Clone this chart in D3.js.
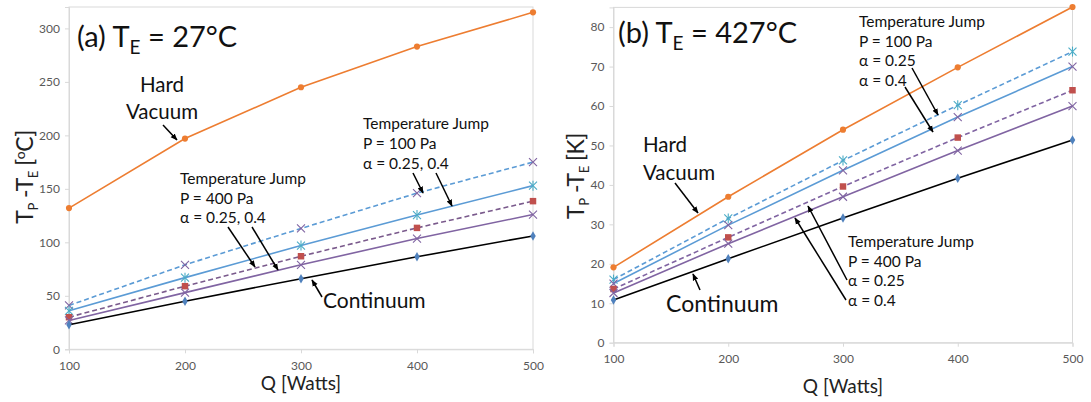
<!DOCTYPE html>
<html>
<head>
<meta charset="utf-8">
<script src="https://cdn.jsdelivr.net/npm/d3@7"></script>
<style>
  body { margin: 0; background: #fff; }
  text { font-family: Lato, "Open Sans", sans-serif; }
</style>
</head>
<body>
<div id="app"></div>
<script>
const watts = [100, 200, 300, 400, 500];

// panel (a), T_E = 27 C
const aHardVacuum = [132, 197, 245, 283, 315];
const aContinuum = [23, 45, 66, 86.5, 106];
const aJump400a25 = [30, 59, 87, 113.5, 138.5];
const aJump400a40 = [27, 53, 79, 103.5, 126];
const aJump100a25 = [41, 79, 113, 146, 175];
const aJump100a40 = [36, 67, 97, 125.5, 153];

// panel (b), T_E = 427 C
const bHardVacuum = [19.1, 37, 54, 69.8, 85.1];
const bContinuum = [10.8, 21.3, 31.6, 41.7, 51.4];
const bJump400a25 = [13.6, 26.7, 39.6, 52, 64];
const bJump400a40 = [12.6, 25.1, 37, 48.7, 60];
const bJump100a25 = [16, 31.5, 46.2, 60.2, 73.8];
const bJump100a40 = [15, 29.8, 43.7, 57.2, 70];

const aTicks = [0, 50, 100, 150, 200, 250, 300];
const bTicks = [0, 10, 20, 30, 40, 50, 60, 70, 80];

const orange = "#ED7D31", blue = "#5B9BD5", purple = "#8064A2",
      red = "#C0504D", teal = "#4BACC6", navy = "#4F81BD";

const svg = d3.select("#app").append("svg")
    .attr("width", 1091).attr("height", 402);

function drawMarker(g, kind, color) {
    if (kind === "circle" || kind === "square" || kind === "diamond") {
        const t = {circle: d3.symbolCircle, square: d3.symbolSquare, diamond: d3.symbolDiamond}[kind];
        const s = {circle: 30, square: 42, diamond: 26}[kind];
        g.append("path").attr("d", d3.symbol(t, s)()).attr("fill", color);
    } else {
        const r = 4;
        g.append("path").attr("d", `M${-r},${-r}L${r},${r}M${-r},${r}L${r},${-r}`)
            .attr("stroke", color).attr("stroke-width", 1.1).attr("fill", "none");
        if (kind === "star")
            g.append("path").attr("d", `M0,${-r - 1}L0,${r + 1}`)
                .attr("stroke", color).attr("stroke-width", 1.1);
    }
}

function panel(opts) {
    const x = d3.scaleLinear().domain([100, 500]).range(opts.xr);
    const y = d3.scaleLinear().domain(opts.yd).range(opts.yr);
    const g = svg.append("g");

    // frame
    g.append("rect").attr("x", opts.xr[0]).attr("y", opts.yr[1])
        .attr("width", opts.xr[1] - opts.xr[0]).attr("height", opts.yr[0] - opts.yr[1])
        .attr("fill", "none").attr("stroke", "#d9d9d9");

    const yAxis = g.append("g").attr("transform", `translate(${opts.xr[0]},0)`)
        .call(d3.axisLeft(y).tickValues(opts.ticks).tickSize(4).tickPadding(5));
    const xAxis = g.append("g").attr("transform", `translate(0,${opts.yr[0]})`)
        .call(d3.axisBottom(x).tickValues(watts).tickSize(4).tickPadding(8));
    [yAxis, xAxis].forEach(a => {
        a.select(".domain").attr("stroke", "#d9d9d9");
        a.selectAll(".tick line").attr("stroke", "#d9d9d9");
        a.selectAll(".tick text").attr("fill", "#595959").style("font-size", "12px")
            .style("font-family", "Lato, sans-serif");
    });

    const line = d3.line().x((d, i) => x(watts[i])).y(d => y(d));
    opts.series.forEach(s => {
        g.append("path").datum(s.values).attr("d", line)
            .attr("fill", "none").attr("stroke", s.color).attr("stroke-width", 1.6)
            .attr("stroke-dasharray", s.dash ? "5,3" : null);
        s.values.forEach((v, i) => {
            const m = g.append("g").attr("transform", `translate(${x(watts[i])},${y(v)})`);
            drawMarker(m, s.marker, s.mcolor);
        });
    });

    // axis titles
    g.append("text").attr("x", (opts.xr[0] + opts.xr[1]) / 2).attr("y", opts.xTitleY)
        .attr("text-anchor", "middle").style("font-size", "19px").attr("fill", "#222")
        .text("Q [Watts]");
    const yt = g.append("text")
        .attr("transform", `translate(${opts.yTitleX},${opts.yTitleY}) rotate(-90)`)
        .attr("text-anchor", "middle").style("font-size", "23px").attr("fill", "#222")
        .attr("letter-spacing", "-0.5");
    yt.append("tspan").text("T");
    yt.append("tspan").attr("dy", 5).style("font-size", "13px").text("P");
    yt.append("tspan").attr("dy", -5).text(" -T");
    yt.append("tspan").attr("dy", 5).style("font-size", "13px").text("E");
    yt.append("tspan").attr("dy", -5).text(" [");
    if (opts.unit === "C") {
        yt.append("tspan").attr("dy", -8).style("font-size", "14px").text("o");
        yt.append("tspan").attr("dy", 8).text("C]");
    } else {
        yt.append("tspan").text("K]");
    }

    // title
    const tt = g.append("text").attr("x", opts.title[0]).attr("y", opts.title[1])
        .style("font-size", "29px").attr("fill", "#111");
    tt.append("tspan").text(opts.title[2] + " T");
    tt.append("tspan").attr("dy", 7).style("font-size", "19px").text("E");
    tt.append("tspan").attr("dy", -7).text(" = " + opts.title[3] + "°C");

    return g;
}

function label(lines, x0, y0, size, lh, anchor) {
    const t = svg.append("text").attr("x", x0).attr("y", y0)
        .style("font-size", size + "px").attr("fill", "#111")
        .attr("text-anchor", anchor || "start");
    lines.forEach((l, i) => t.append("tspan").attr("x", x0).attr("dy", i ? lh : 0).text(l));
}

svg.append("defs").append("marker").attr("id", "ah")
    .attr("viewBox", "0 0 10 10").attr("refX", 9).attr("refY", 5)
    .attr("markerWidth", 7).attr("markerHeight", 7).attr("orient", "auto-start-reverse")
    .attr("markerUnits", "userSpaceOnUse")
    .append("path").attr("d", "M0,1L10,5L0,9z").attr("fill", "#000");

function arrow(x1, y1, x2, y2) {
    svg.append("line").attr("x1", x1).attr("y1", y1).attr("x2", x2).attr("y2", y2)
        .attr("stroke", "#000").attr("stroke-width", 1.5).attr("marker-end", "url(#ah)");
}

panel({
    xr: [69, 533], yd: [0, 320], yr: [349.3, 7], ticks: aTicks,
    xTitleY: 390, yTitleX: 33, yTitleY: 177, unit: "C",
    title: [77, 47, "(a)", "27"],
    series: [
        {values: aHardVacuum, color: orange, marker: "circle", mcolor: orange},
        {values: aJump100a25, color: blue, dash: true, marker: "x", mcolor: purple},
        {values: aJump100a40, color: blue, marker: "star", mcolor: teal},
        {values: aJump400a25, color: "#7a5a8c", dash: true, marker: "square", mcolor: red},
        {values: aJump400a40, color: purple, marker: "x", mcolor: purple},
        {values: aContinuum, color: "#000", marker: "diamond", mcolor: navy}
    ]
});

panel({
    xr: [613.5, 1072.5], yd: [0, 85], yr: [342.7, 7.4], ticks: bTicks,
    xTitleY: 393, yTitleX: 584, yTitleY: 176, unit: "K",
    title: [618, 43, "(b)", "427"],
    series: [
        {values: bHardVacuum, color: orange, marker: "circle", mcolor: orange},
        {values: bJump100a25, color: blue, dash: true, marker: "star", mcolor: teal},
        {values: bJump100a40, color: blue, marker: "x", mcolor: purple},
        {values: bJump400a25, color: purple, dash: true, marker: "square", mcolor: red},
        {values: bJump400a40, color: purple, marker: "x", mcolor: purple},
        {values: bContinuum, color: "#000", marker: "diamond", mcolor: navy}
    ]
});

// annotations, panel (a)
label(["Hard", "Vacuum"], 162, 92, 20.5, 27, "middle");
arrow(163, 125, 177, 140);
label(["Temperature Jump", "P = 400 Pa", "α = 0.25, 0.4"], 180, 184, 15.5, 19.5);
arrow(228, 227, 255, 267);
arrow(252, 227, 278, 270);
label(["Temperature Jump", "P = 100 Pa", "α = 0.25, 0.4"], 363, 129, 15.5, 20);
arrow(413, 173, 423, 193);
arrow(436, 173, 452, 206);
label(["Continuum"], 323, 308, 21, 0);
arrow(322, 297, 312, 280);

// annotations, panel (b)
label(["Hard", "Vacuum"], 643, 152, 20.5, 28);
arrow(675, 183, 698, 213);
label(["Temperature Jump", "P = 100 Pa", "α = 0.25", "α = 0.4"], 859, 27, 15.5, 19.5);
arrow(912, 68, 938, 115);
arrow(905, 87, 933, 132);
label(["Continuum"], 666, 312, 23, 0);
arrow(700, 290, 693, 274);
label(["Temperature Jump", "P = 400 Pa", "α = 0.25", "α = 0.4"], 848, 247, 15.5, 19.5);
arrow(847, 280, 808, 206);
arrow(846, 300, 795, 218);
</script>
</body>
</html>
